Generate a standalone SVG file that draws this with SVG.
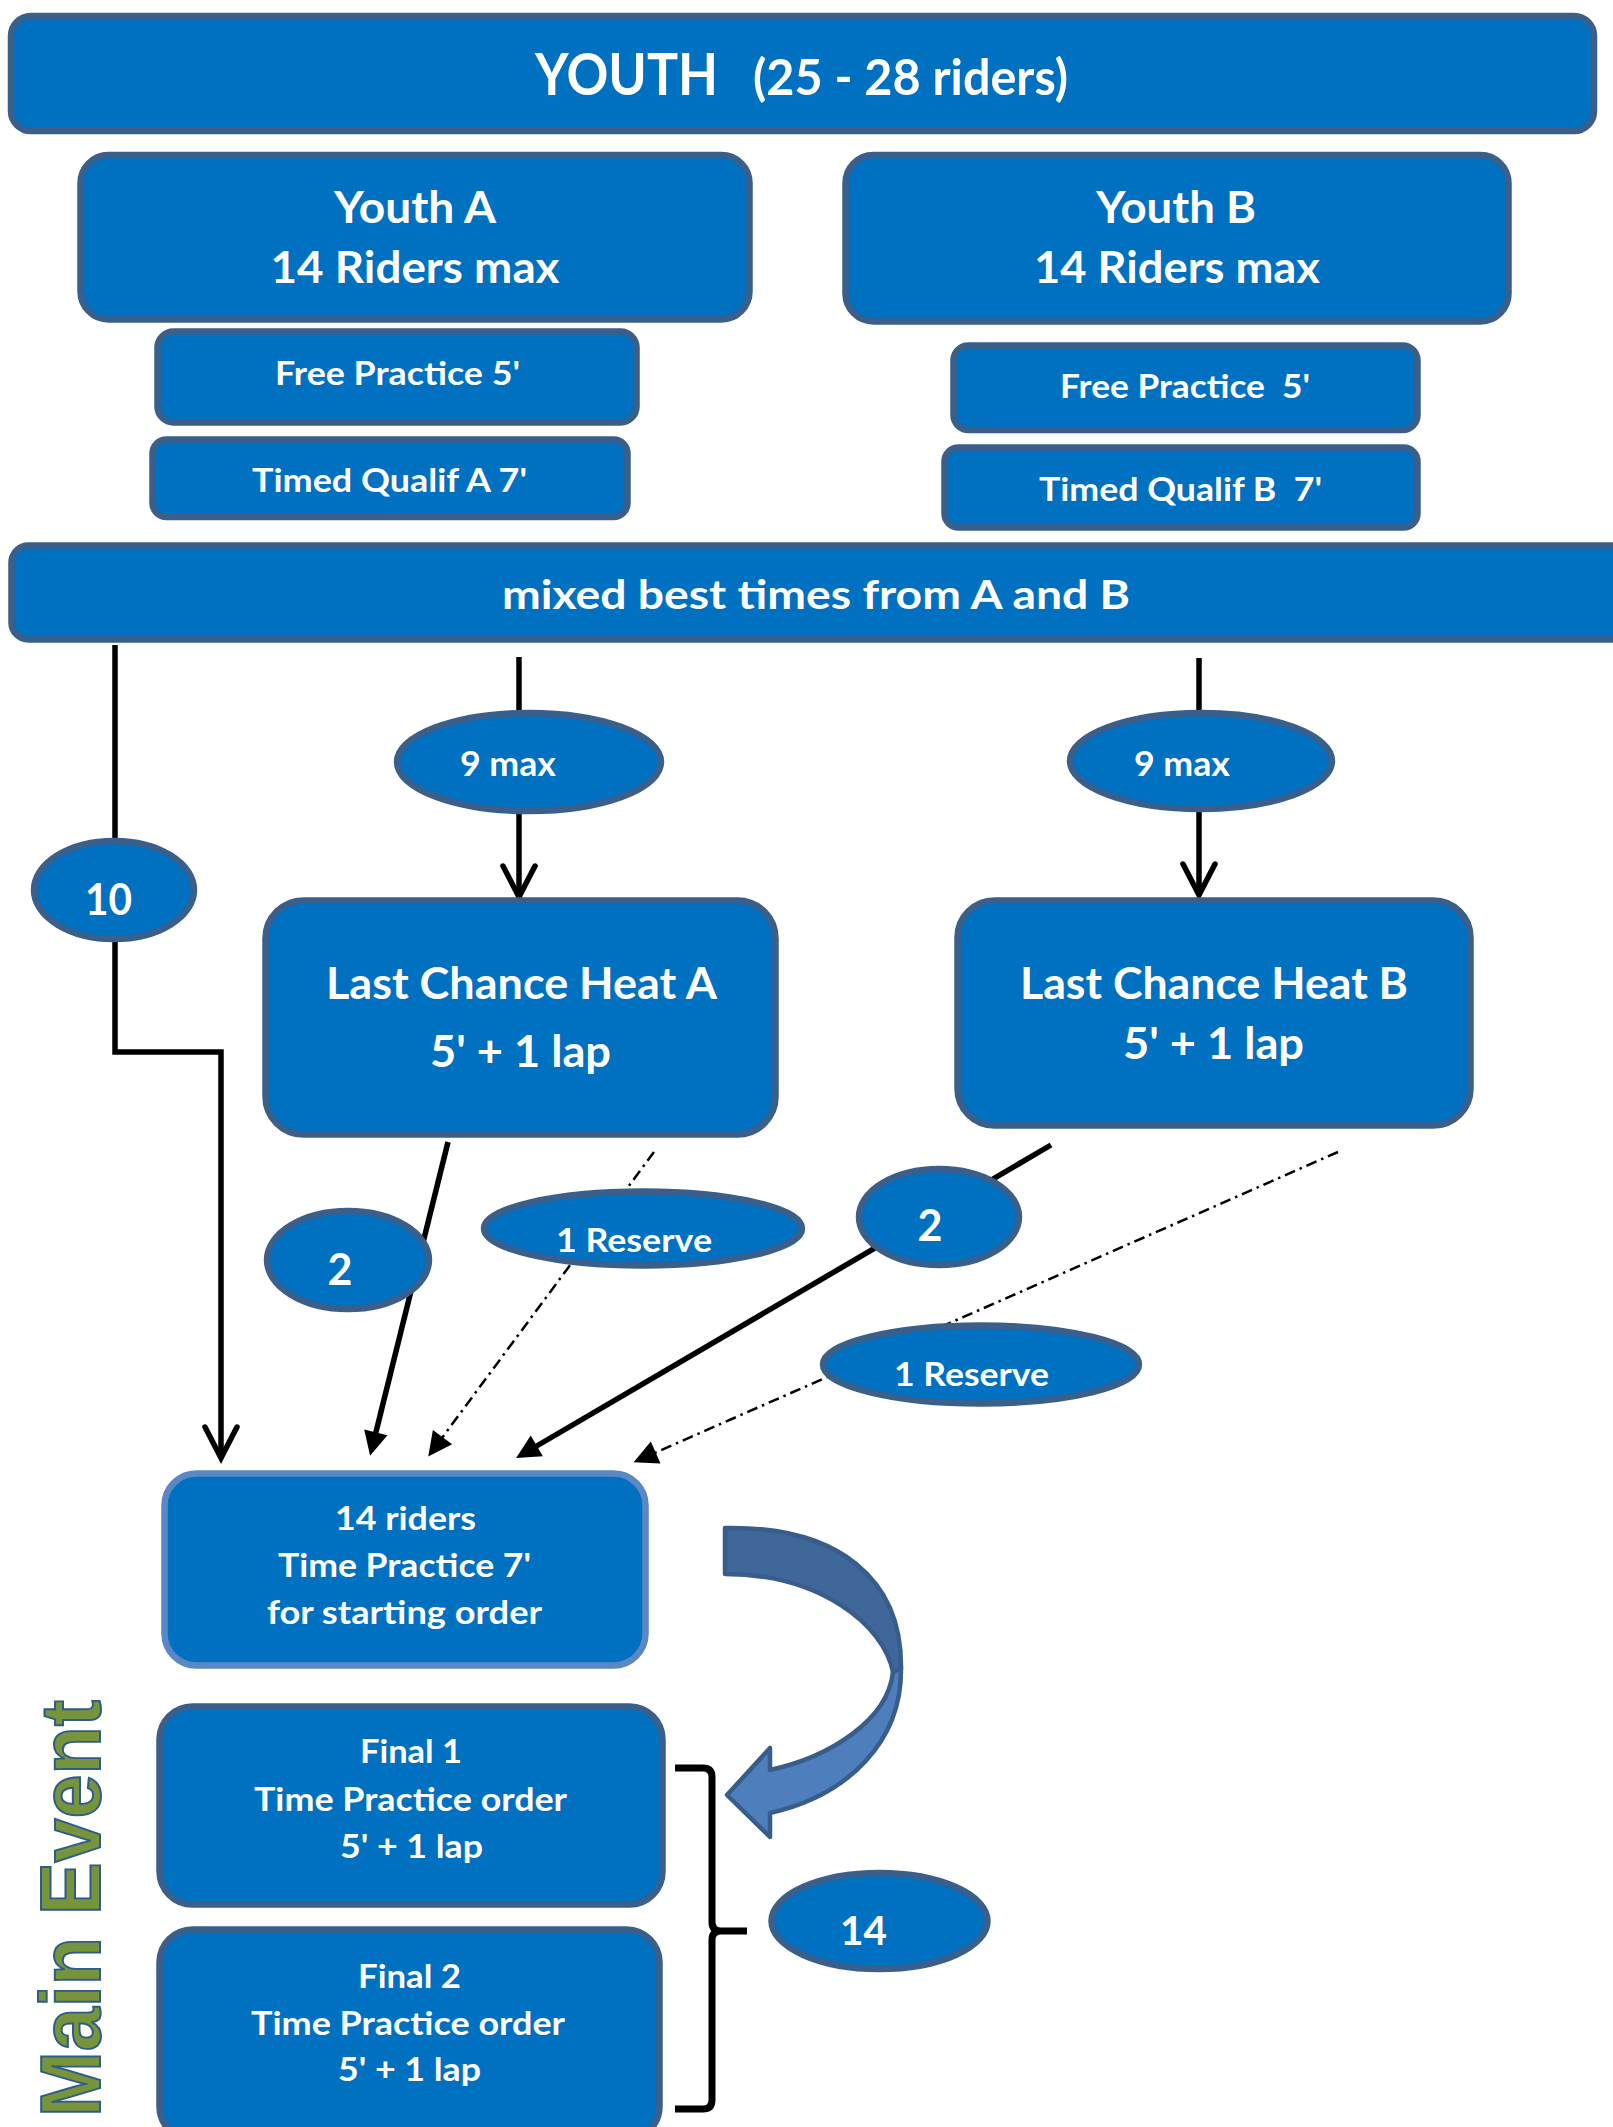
<svg xmlns="http://www.w3.org/2000/svg" width="1613" height="2127" viewBox="0 0 1613 2127">
<style>
.box{fill:#0070C0;stroke:#3A5F8B;stroke-width:6.5}
.box2{fill:#0070C0;stroke:#5B87C4;stroke-width:6.5}
.t{font-family:Lato,"Liberation Sans",sans-serif;font-weight:bold;fill:#FFFFFF;text-anchor:middle}
.con{fill:none;stroke:#000;stroke-width:5.5}
.dash{fill:none;stroke:#000;stroke-width:2.5;stroke-dasharray:11 5 2.5 5}
</style>
<defs>
<marker id="open" markerUnits="userSpaceOnUse" markerWidth="44" markerHeight="44" refX="32" refY="17" orient="auto" overflow="visible">
<path d="M1,1 L32,17 L1,33" fill="none" stroke="#000" stroke-width="5.5" stroke-linecap="round" stroke-linejoin="miter"/>
</marker>
<marker id="fill" markerUnits="userSpaceOnUse" markerWidth="30" markerHeight="30" refX="16" refY="12" orient="auto" overflow="visible">
<path d="M0,0 L24,12 L0,24 Z" fill="#000"/>
</marker>
</defs>

<g id="connectors">
<path class="con" d="M115,645 V1052 H221 V1458" marker-end="url(#open)"/>
<path class="con" d="M519,657 V897" marker-end="url(#open)"/>
<path class="con" d="M1199,658 V895" marker-end="url(#open)"/>
<path class="con" d="M448,1142 L372,1448" marker-end="url(#fill)"/>
<path class="con" d="M1051,1145 L523,1454" marker-end="url(#fill)"/>
<path class="dash" d="M654,1152 L433,1450" marker-end="url(#fill)"/>
<path class="dash" d="M1338,1152 L641,1459" marker-end="url(#fill)"/>
<path id="brace" d="M675,1768 H703 Q712,1768 712,1777 V1922 Q712,1931 721,1931 H747 M721,1931 Q712,1931 712,1940 V2100 Q712,2109 703,2109 H675" fill="none" stroke="#000" stroke-width="7"/>
</g>

<g id="youth">
<rect class="box" x="11" y="16" width="1583" height="115" rx="20"/>
<text class="t" x="535" y="95" font-size="58" textLength="183" lengthAdjust="spacingAndGlyphs" style="text-anchor:start">YOUTH</text>
<text class="t" x="753" y="95" font-size="50" textLength="315" lengthAdjust="spacingAndGlyphs" style="text-anchor:start">(25 - 28 riders)</text>
</g>

<g id="youth-a">
<rect class="box" x="80.5" y="155" width="669" height="164.5" rx="28"/>
<text class="t" x="415" y="223" font-size="44" textLength="162" lengthAdjust="spacingAndGlyphs">Youth A</text>
<text class="t" x="415" y="283" font-size="44" textLength="289" lengthAdjust="spacingAndGlyphs">14 Riders max</text>
</g>
<g id="youth-b">
<rect class="box" x="845.5" y="155" width="663" height="166.5" rx="28"/>
<text class="t" x="1176" y="223" font-size="44" textLength="160" lengthAdjust="spacingAndGlyphs">Youth B</text>
<text class="t" x="1177" y="283" font-size="44" textLength="286" lengthAdjust="spacingAndGlyphs">14 Riders max</text>
</g>

<g id="fp-a">
<rect class="box" x="157.5" y="331.5" width="479" height="91" rx="16"/>
<text class="t" x="397.5" y="385" font-size="33" textLength="245" lengthAdjust="spacingAndGlyphs">Free Practice 5'</text>
</g>
<g id="tq-a">
<rect class="box" x="152.5" y="439.5" width="475" height="77.5" rx="14"/>
<text class="t" x="389.5" y="492" font-size="33" textLength="275" lengthAdjust="spacingAndGlyphs">Timed Qualif A 7'</text>
</g>
<g id="fp-b">
<rect class="box" x="953.5" y="345.5" width="464" height="84.5" rx="15"/>
<text class="t" x="1185" y="398" font-size="33" textLength="250" lengthAdjust="spacingAndGlyphs" xml:space="preserve">Free Practice  5'</text>
</g>
<g id="tq-b">
<rect class="box" x="944.5" y="447.5" width="473" height="80" rx="14"/>
<text class="t" x="1180.5" y="501" font-size="33" textLength="283" lengthAdjust="spacingAndGlyphs" xml:space="preserve">Timed Qualif B  7'</text>
</g>

<g id="mixed">
<rect class="box" x="11.5" y="545.5" width="1625" height="94" rx="17"/>
<text class="t" x="816" y="609" font-size="40" textLength="628" lengthAdjust="spacingAndGlyphs">mixed best times from A and B</text>
</g>

<g id="ten">
<ellipse class="box" cx="114" cy="890" rx="80" ry="49"/>
<text class="t" x="108.5" y="915" font-size="43" textLength="47" lengthAdjust="spacingAndGlyphs">10</text>
</g>
<g id="nine-a">
<ellipse class="box" cx="529" cy="762" rx="132" ry="49"/>
<text class="t" x="508" y="776" font-size="35" textLength="96" lengthAdjust="spacingAndGlyphs">9 max</text>
</g>
<g id="nine-b">
<ellipse class="box" cx="1201" cy="761" rx="131" ry="48"/>
<text class="t" x="1182" y="776" font-size="35" textLength="96" lengthAdjust="spacingAndGlyphs">9 max</text>
</g>

<g id="lc-a">
<rect class="box" x="265.5" y="900.5" width="510" height="234" rx="38"/>
<text class="t" x="521.5" y="999" font-size="43" textLength="391" lengthAdjust="spacingAndGlyphs">Last Chance Heat A</text>
<text class="t" x="520.5" y="1067" font-size="43" textLength="181" lengthAdjust="spacingAndGlyphs">5' + 1 lap</text>
</g>
<g id="lc-b">
<rect class="box" x="957.5" y="900.5" width="513" height="225" rx="37"/>
<text class="t" x="1214" y="999" font-size="43" textLength="388" lengthAdjust="spacingAndGlyphs">Last Chance Heat B</text>
<text class="t" x="1213.5" y="1059" font-size="43" textLength="181" lengthAdjust="spacingAndGlyphs">5' + 1 lap</text>
</g>

<g id="two-a">
<ellipse class="box" cx="348" cy="1260" rx="81" ry="49"/>
<text class="t" x="340" y="1285" font-size="43">2</text>
</g>
<g id="reserve-a">
<ellipse class="box" cx="643" cy="1228.5" rx="159" ry="37"/>
<text class="t" x="634" y="1252" font-size="33" textLength="156" lengthAdjust="spacingAndGlyphs">1 Reserve</text>
</g>
<g id="two-b">
<ellipse class="box" cx="939" cy="1217" rx="80" ry="48"/>
<text class="t" x="930" y="1241" font-size="43">2</text>
</g>
<g id="reserve-b">
<ellipse class="box" cx="981" cy="1364.5" rx="158" ry="39"/>
<text class="t" x="971.5" y="1386" font-size="33" textLength="155" lengthAdjust="spacingAndGlyphs">1 Reserve</text>
</g>

<g id="time-practice">
<rect class="box2" x="164.5" y="1473.5" width="481" height="192" rx="32"/>
<text class="t" x="405.5" y="1530" font-size="33" textLength="141" lengthAdjust="spacingAndGlyphs">14 riders</text>
<text class="t" x="404.5" y="1577" font-size="33" textLength="253" lengthAdjust="spacingAndGlyphs">Time Practice 7'</text>
<text class="t" x="404.5" y="1624" font-size="33" textLength="275" lengthAdjust="spacingAndGlyphs">for starting order</text>
</g>

<g id="curved-arrow">
<path d="M725,1528 C840,1526 902,1580 901,1668 L893,1672 C884,1625 820,1574 725,1574 Z" fill="#3F6799" stroke="#385D8A" stroke-width="4.5" stroke-linejoin="round"/>
<path d="M901,1668 C902,1740 850,1795 770,1813 L770,1837 L727,1795 L770,1748 L770,1770 C830,1757 888,1720 893,1672 Z" fill="#4E7FBC" stroke="#385D8A" stroke-width="4.5" stroke-linejoin="round"/>
</g>

<g id="final-1">
<rect class="box" x="159.5" y="1706.5" width="503" height="198" rx="33"/>
<text class="t" x="411" y="1763" font-size="32" textLength="102" lengthAdjust="spacingAndGlyphs">Final 1</text>
<text class="t" x="410.5" y="1811" font-size="32" textLength="313" lengthAdjust="spacingAndGlyphs">Time Practice order</text>
<text class="t" x="411.5" y="1858" font-size="32" textLength="143" lengthAdjust="spacingAndGlyphs">5' + 1 lap</text>
</g>
<g id="final-2">
<rect class="box" x="159.5" y="1929.5" width="500" height="210" rx="33"/>
<text class="t" x="409.5" y="1988" font-size="32" textLength="103" lengthAdjust="spacingAndGlyphs">Final 2</text>
<text class="t" x="408" y="2035" font-size="32" textLength="314" lengthAdjust="spacingAndGlyphs">Time Practice order</text>
<text class="t" x="409.5" y="2081" font-size="32" textLength="143" lengthAdjust="spacingAndGlyphs">5' + 1 lap</text>
</g>

<g id="fourteen">
<ellipse class="box" cx="879.5" cy="1921" rx="108" ry="48"/>
<text class="t" x="863.5" y="1945" font-size="41" textLength="47" lengthAdjust="spacingAndGlyphs">14</text>
</g>

<g id="main-event">
<text transform="translate(100,2117) rotate(-90)" x="0" y="0" font-family="'Liberation Sans',Arial,sans-serif" font-weight="bold" font-size="85" fill="#77933C" stroke="#2E5C8A" stroke-width="2" textLength="417" lengthAdjust="spacingAndGlyphs">Main Event</text>
</g>
</svg>
